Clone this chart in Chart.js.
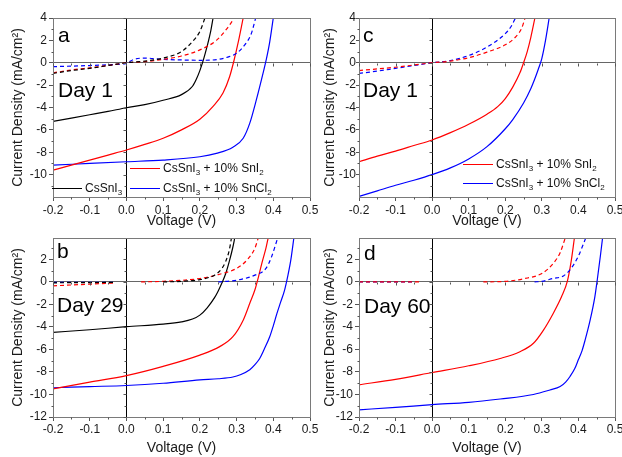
<!DOCTYPE html>
<html>
<head>
<meta charset="utf-8">
<script src="https://cdn.jsdelivr.net/npm/chart.js@4.4.1/dist/chart.umd.min.js"></script>
<style>
  html, body { margin: 0; padding: 0; background: #fff; overflow: hidden; }
  body { width: 622px; height: 457px; position: relative; font-family: "Liberation Sans", Arial, sans-serif; }
  canvas { position: absolute; }
  .leg { position: absolute; font-size: 12px; line-height: 14px; color: #111; white-space: nowrap; }
  .leg .sw { display: inline-block; width: 30px; height: 0; border-top: 1.3px solid; vertical-align: middle; margin-right: 3px; }
  .leg sub { font-size: 8px; vertical-align: -3px; line-height: 0; }
</style>
</head>
<body>
<canvas id="panelA" width="322" height="232" style="left:0;top:0"></canvas>
<canvas id="panelC" width="306" height="232" style="left:316px;top:0"></canvas>
<canvas id="panelB" width="322" height="231" style="left:0;top:226px"></canvas>
<canvas id="panelD" width="306" height="231" style="left:316px;top:226px"></canvas>

<div class="leg" style="left:130px;top:161px"><span class="sw" style="border-color:#f00"></span>CsSnI<sub>3</sub> + 10% SnI<sub>2</sub></div>
<div class="leg" style="left:52px;top:181px"><span class="sw" style="border-color:#000"></span>CsSnI<sub>3</sub></div>
<div class="leg" style="left:130px;top:181px"><span class="sw" style="border-color:#00f"></span>CsSnI<sub>3</sub> + 10% SnCl<sub>2</sub></div>
<div class="leg" style="left:463px;top:157px"><span class="sw" style="border-color:#f00"></span>CsSnI<sub>3</sub> + 10% SnI<sub>2</sub></div>
<div class="leg" style="left:463px;top:176px"><span class="sw" style="border-color:#00f"></span>CsSnI<sub>3</sub> + 10% SnCl<sub>2</sub></div>

<script>
// tick values
const voltTicks = [-0.2, -0.1, 0.0, 0.1, 0.2, 0.3, 0.4, 0.5];
const jTicksTop = [-10, -8, -6, -4, -2, 0, 2, 4];
const jTicksBottom = [-12, -10, -8, -6, -4, -2, 0, 2];

// panel a, day 1  (V in volts, J in mA/cm2; null = break in the dark curve)
const aBlackLightV = [-0.2, -0.15, -0.1, -0.05, 0, 0.05, 0.1, 0.15, 0.18, 0.19, 0.2, 0.21, 0.22, 0.23, 0.236];
const aBlackLightJ = [-5.25, -4.95, -4.65, -4.35, -4.02, -3.75, -3.35, -2.85, -2.1, -1.5, -0.7, 0.3, 1.5, 2.9, 4.0];
const aBlackDarkV = [-0.2, -0.15, -0.1, -0.05, 0, 0.05, 0.1, 0.15, 0.18, 0.2, 0.214];
const aBlackDarkJ = [-0.95, -0.7, -0.5, -0.25, 0, 0.15, 0.42, 1.0, 1.9, 2.8, 4.0];
const aRedLightV = [-0.2, -0.15, -0.1, -0.05, 0, 0.05, 0.1, 0.15, 0.2, 0.236, 0.263, 0.281, 0.293, 0.305, 0.318];
const aRedLightJ = [-9.6, -9.15, -8.7, -8.25, -7.8, -7.3, -6.75, -6.0, -5.05, -3.9, -2.7, -1.25, 0.2, 1.9, 4.0];
const aRedDarkV = [-0.2, -0.15, -0.1, -0.05, 0, 0.05, 0.1, 0.15, 0.2, 0.245, 0.275, 0.294];
const aRedDarkJ = [-0.9, -0.65, -0.45, -0.25, 0, 0.1, 0.3, 0.6, 1.15, 2.0, 3.1, 4.0];
const aBlueLightV = [-0.2, -0.1, 0, 0.1, 0.2, 0.245, 0.29, 0.318, 0.336, 0.354, 0.372, 0.381, 0.39, 0.4];
const aBlueLightJ = [-9.15, -9.0, -8.85, -8.7, -8.4, -8.1, -7.55, -6.75, -5.4, -3.3, -0.95, 0.3, 1.8, 4.0];
const aBlueDarkV = [-0.2, -0.1, -0.03, 0.0, 0.02, 0.05, 0.1, 0.15, 0.2, 0.25, 0.28, 0.3, 0.32, 0.34, 0.352];
const aBlueDarkJ = [-0.35, -0.25, -0.15, -0.05, 0.3, 0.42, 0.3, 0.25, 0.22, 0.3, 0.55, 0.85, 1.5, 2.6, 4.0];

// panel c, day 1
const cRedLightV = [-0.2, -0.15, -0.1, -0.05, 0, 0.05, 0.1, 0.15, 0.18, 0.2, 0.22, 0.24, 0.25, 0.26, 0.27, 0.281];
const cRedLightJ = [-8.85, -8.35, -7.9, -7.4, -6.9, -6.25, -5.5, -4.6, -3.9, -3.2, -2.2, -0.9, 0, 1.0, 2.3, 4.0];
const cRedDarkV = [-0.2, -0.15, -0.1, -0.05, 0, 0.05, 0.1, 0.15, 0.2, 0.228, 0.245, 0.254];
const cRedDarkJ = [-0.7, -0.55, -0.4, -0.2, 0, 0.15, 0.45, 0.95, 1.6, 2.3, 3.1, 4.0];
const cBlueLightV = [-0.2, -0.15, -0.1, -0.05, 0, 0.05, 0.1, 0.15, 0.2, 0.22, 0.25, 0.27, 0.28, 0.29, 0.3, 0.31, 0.32];
const cBlueLightJ = [-11.95, -11.45, -10.95, -10.5, -10.0, -9.4, -8.6, -7.5, -5.9, -5.1, -3.6, -2.3, -1.5, -0.6, 0.4, 2.0, 4.0];
const cBlueDarkV = [-0.2, -0.15, -0.1, -0.05, 0, 0.05, 0.1, 0.15, 0.2, 0.215, 0.228];
const cBlueDarkJ = [-0.95, -0.75, -0.5, -0.25, 0, 0.2, 0.65, 1.4, 2.6, 3.2, 4.0];

// panel b, day 29
const bBlackLightV = [-0.2, -0.1, 0, 0.1, 0.15, 0.18, 0.2, 0.22, 0.24, 0.25, 0.26, 0.27, 0.28, 0.29, 0.295];
const bBlackLightJ = [-4.48, -4.25, -3.98, -3.75, -3.55, -3.3, -2.95, -2.3, -1.4, -0.8, -0.1, 0.7, 1.8, 3.1, 3.9];
const bBlackDarkV = [-0.2, -0.1, -0.03, 0, 0.1, 0.15, 0.2, 0.22, 0.24, 0.26, 0.27, 0.28, 0.286];
const bBlackDarkJ = [-0.08, -0.06, -0.04, null, 0, 0.05, 0.2, 0.35, 0.6, 1.2, 1.8, 2.8, 3.9];
const bRedLightV = [-0.2, -0.1, 0, 0.1, 0.2, 0.254, 0.29, 0.318, 0.336, 0.35, 0.36, 0.37, 0.38, 0.386];
const bRedLightJ = [-9.5, -8.9, -8.32, -7.5, -6.5, -5.75, -4.87, -3.4, -1.9, -0.7, 0.5, 1.8, 3.0, 3.9];
const bRedDarkV = [-0.2, -0.1, -0.035, 0, 0.04, 0.1, 0.2, 0.25, 0.3, 0.33, 0.35, 0.359];
const bRedDarkJ = [-0.35, -0.2, -0.1, null, 0, 0.05, 0.3, 0.65, 1.2, 2.0, 3.0, 3.9];
const bBlueLightV = [-0.2, -0.1, 0, 0.1, 0.2, 0.25, 0.29, 0.31, 0.336, 0.35, 0.363, 0.375, 0.39, 0.4, 0.41, 0.42, 0.431, 0.44, 0.448, 0.456];
const bBlueLightJ = [-9.4, -9.3, -9.2, -9.0, -8.7, -8.6, -8.45, -8.25, -7.8, -7.35, -6.8, -6.0, -4.9, -3.9, -2.8, -1.8, -0.7, 0.6, 2.0, 3.9];
const bBlueDarkV = [-0.2, -0.1, -0.03, 0, 0.25, 0.3, 0.35, 0.38, 0.395, 0.412];
const bBlueDarkJ = [-0.05, -0.05, -0.05, null, 0, 0.15, 0.6, 1.2, 2.2, 3.9];

// panel d, day 60
const dRedLightV = [-0.2, -0.1, 0, 0.1, 0.186, 0.24, 0.277, 0.304, 0.331, 0.354, 0.37, 0.38, 0.389];
const dRedLightJ = [-9.14, -8.65, -8.05, -7.45, -6.8, -6.2, -5.45, -4.3, -2.8, -1.3, 0.1, 1.8, 3.9];
const dRedDarkV = [-0.2, -0.1, -0.03, 0, 0.14, 0.2, 0.25, 0.3, 0.33, 0.35, 0.364];
const dRedDarkJ = [0, 0, 0, null, 0, 0.05, 0.28, 0.75, 1.6, 2.6, 3.9];
const dBlueLightV = [-0.2, -0.1, 0, 0.1, 0.186, 0.277, 0.322, 0.35, 0.365, 0.377, 0.39, 0.4, 0.41, 0.418, 0.432, 0.445, 0.452, 0.46, 0.466];
const dBlueLightJ = [-11.36, -11.15, -10.9, -10.7, -10.4, -10.0, -9.6, -9.3, -8.9, -8.4, -7.7, -6.9, -6.1, -5.2, -3.4, -1.3, 0.3, 2.3, 3.9];
const dBlueDarkV = [-0.2, -0.1, -0.05, 0, 0.28, 0.3, 0.33, 0.36, 0.38, 0.4, 0.42];
const dBlueDarkJ = [0, 0, 0, null, 0, 0.05, 0.3, 0.55, 1.2, 2.3, 3.9];

const FONT = '"Liberation Sans", Arial, sans-serif';
Chart.defaults.font.family = FONT;

const colors = {
    black: '#000000',
    red: '#ff0000',
    blue: '#0000ff',
    frame: '#7a7a7a',
    text: '#1a1a1a'
};

function curve(vs, js, color, dashed) {
    return {
        data: vs.map((v, i) => ({ x: v, y: js[i] })),
        borderColor: color,
        borderWidth: 1.2,
        borderDash: dashed ? [4, 3] : [],
        pointRadius: 0,
        cubicInterpolationMode: 'monotone',
        fill: false
    };
}

// box around the plot
const frame = {
    id: 'frame',
    afterDraw(chart) {
        const { ctx, chartArea: ca } = chart;
        ctx.save();
        ctx.strokeStyle = colors.frame;
        ctx.lineWidth = 1;
        const l = Math.round(ca.left) + 0.5, t = Math.round(ca.top) + 0.5;
        ctx.strokeRect(l, t, Math.round(ca.right) - Math.round(ca.left), Math.round(ca.bottom) - Math.round(ca.top));
        ctx.restore();
    }
};

// minor ticks on the frame, plus ticks along both zero lines
const minorTicks = {
    id: 'minorTicks',
    afterDraw(chart) {
        const { ctx, chartArea: ca, scales: { x, y } } = chart;
        const zy = Math.round(y.getPixelForValue(0)) + 0.5;
        const zx = Math.round(x.getPixelForValue(0)) + 0.5;
        const bottom = Math.round(ca.bottom) + 0.5;
        const left = Math.round(ca.left) + 0.5;
        ctx.save();
        ctx.strokeStyle = '#555';
        ctx.lineWidth = 1;
        ctx.beginPath();
        for (let i = -4; i <= 10; i++) {
            const px = Math.round(x.getPixelForValue(i * 0.05)) + 0.5;
            const minor = i % 2 !== 0;
            if (minor) { ctx.moveTo(px, bottom); ctx.lineTo(px, bottom + 2); }
            ctx.moveTo(px, zy); ctx.lineTo(px, zy + (minor ? 2 : 3));
        }
        for (let j = Math.ceil(y.min); j <= y.max; j++) {
            const py = Math.round(y.getPixelForValue(j)) + 0.5;
            const minor = j % 2 !== 0;
            if (minor) { ctx.moveTo(left, py); ctx.lineTo(left - 2, py); }
            ctx.moveTo(zx, py); ctx.lineTo(zx - (minor ? 2 : 3), py);
        }
        ctx.stroke();
        ctx.restore();
    }
};

// "a" + "Day 1" style labels
const panelLabels = {
    id: 'panelLabels',
    afterDraw(chart, args, opts) {
        const { ctx, chartArea: ca } = chart;
        ctx.save();
        ctx.fillStyle = '#000';
        ctx.font = '21px ' + FONT;
        ctx.textBaseline = 'alphabetic';
        ctx.textAlign = 'left';
        ctx.fillText(opts.letter, ca.left + opts.dx, ca.top + opts.letterDy);
        ctx.fillText(opts.day, ca.left + opts.dx, ca.top + opts.dayDy);
        ctx.restore();
    }
};

function makePanel(id, datasets, o) {
    return new Chart(document.getElementById(id), {
        type: 'line',
        data: { datasets: datasets },
        plugins: [frame, minorTicks, panelLabels],
        options: {
            responsive: false,
            animation: false,
            layout: { padding: { top: o.padTop, right: o.padRight, left: 0, bottom: 0 } },
            plugins: {
                legend: { display: false },
                tooltip: { enabled: false },
                panelLabels: { letter: o.letter, day: o.day, dx: o.dx, letterDy: o.letterDy, dayDy: o.dayDy }
            },
            scales: {
                x: {
                    type: 'linear',
                    min: -0.2,
                    max: 0.5,
                    afterBuildTicks: (s) => { s.ticks = voltTicks.map(v => ({ value: v })); },
                    afterFit: (s) => { s.height = o.xHeight; s.paddingLeft = 0; s.paddingRight = 0; },
                    border: { display: false },
                    grid: {
                        color: (c) => (c.tick && Math.abs(c.tick.value) < 1e-9 ? '#000' : 'rgba(0,0,0,0)'),
                        tickColor: '#555',
                        tickLength: 4
                    },
                    ticks: {
                        padding: o.xTickPad,
                        color: colors.text,
                        font: { size: 12 },
                        maxRotation: 0,
                        callback: (v) => Number(v).toFixed(1)
                    },
                    title: {
                        display: true,
                        text: 'Voltage (V)',
                        color: colors.text,
                        font: { size: 14 },
                        padding: { top: 0, bottom: o.xTitlePad }
                    }
                },
                y: {
                    min: -12,
                    max: o.yMax,
                    afterBuildTicks: (s) => { s.ticks = o.yTicks.map(v => ({ value: v })); },
                    afterFit: (s) => { s.width = o.yWidth; s.paddingTop = 0; s.paddingBottom = 0; },
                    border: { display: false },
                    grid: {
                        color: (c) => (c.tick && c.tick.value === 0 ? '#666' : 'rgba(0,0,0,0)'),
                        tickColor: '#555',
                        tickLength: o.yTickLen
                    },
                    ticks: {
                        padding: o.yTickPad,
                        color: colors.text,
                        font: { size: 12 },
                        callback: (v) => String(v)
                    },
                    title: {
                        display: true,
                        text: 'Current Density (mA/cm²)',
                        color: colors.text,
                        font: { size: 14 },
                        padding: { top: o.yTitlePad, bottom: 0 }
                    }
                }
            }
        }
    });
}

makePanel('panelA', [
    curve(aBlackDarkV, aBlackDarkJ, colors.black, true),
    curve(aRedDarkV, aRedDarkJ, colors.red, true),
    curve(aBlueDarkV, aBlueDarkJ, colors.blue, true),
    curve(aBlackLightV, aBlackLightJ, colors.black, false),
    curve(aRedLightV, aRedLightJ, colors.red, false),
    curve(aBlueLightV, aBlueLightJ, colors.blue, false)
], { padTop: 18, padRight: 12, xHeight: 35, yWidth: 53, yMax: 4, yTicks: jTicksTop,
     xTickPad: 2, xTitlePad: 2, yTickLen: 4, yTickPad: 2, yTitlePad: 10,
     letter: 'a', day: 'Day 1', dx: 5, letterDy: 24, dayDy: 79 });

makePanel('panelC', [
    curve(cRedDarkV, cRedDarkJ, colors.red, true),
    curve(cBlueDarkV, cBlueDarkJ, colors.blue, true),
    curve(cRedLightV, cRedLightJ, colors.red, false),
    curve(cBlueLightV, cBlueLightJ, colors.blue, false)
], { padTop: 18, padRight: 7, xHeight: 35, yWidth: 43, yMax: 4, yTicks: jTicksTop,
     xTickPad: 2, xTitlePad: 2, yTickLen: 3, yTickPad: 0, yTitlePad: 6,
     letter: 'c', day: 'Day 1', dx: 4, letterDy: 24, dayDy: 79 });

makePanel('panelB', [
    curve(bBlackDarkV, bBlackDarkJ, colors.black, true),
    curve(bRedDarkV, bRedDarkJ, colors.red, true),
    curve(bBlueDarkV, bBlueDarkJ, colors.blue, true),
    curve(bBlackLightV, bBlackLightJ, colors.black, false),
    curve(bRedLightV, bRedLightJ, colors.red, false),
    curve(bBlueLightV, bBlueLightJ, colors.blue, false)
], { padTop: 12, padRight: 12, xHeight: 40, yWidth: 53, yMax: 3.9, yTicks: jTicksBottom,
     xTickPad: 1, xTitlePad: 0, yTickLen: 4, yTickPad: 2, yTitlePad: 10,
     letter: 'b', day: 'Day 29', dx: 4, letterDy: 20, dayDy: 74 });

makePanel('panelD', [
    curve(dRedDarkV, dRedDarkJ, colors.red, true),
    curve(dBlueDarkV, dBlueDarkJ, colors.blue, true),
    curve(dRedLightV, dRedLightJ, colors.red, false),
    curve(dBlueLightV, dBlueLightJ, colors.blue, false)
], { padTop: 12, padRight: 7, xHeight: 40, yWidth: 43, yMax: 3.9, yTicks: jTicksBottom,
     xTickPad: 1, xTitlePad: 0, yTickLen: 4, yTickPad: 2, yTitlePad: 6,
     letter: 'd', day: 'Day 60', dx: 5, letterDy: 22, dayDy: 75 });
</script>
</body>
</html>
